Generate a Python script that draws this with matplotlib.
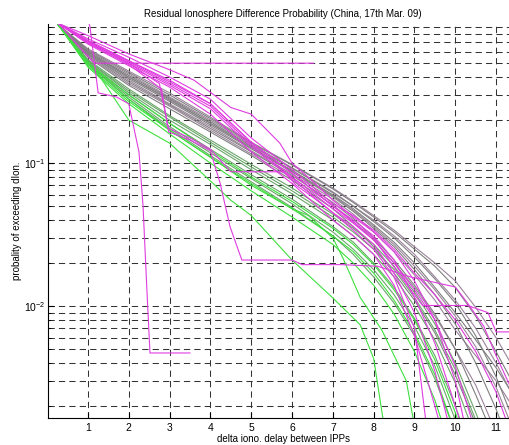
import matplotlib
matplotlib.use("Agg")
import matplotlib.pyplot as plt
from matplotlib.ticker import LogLocator, NullFormatter, FixedLocator

plt.rcParams["font.family"] = ["Liberation Sans", "DejaVu Sans"]
plt.rcParams["mathtext.default"] = "regular"

# common x grid for the band curves
x_grid = [0.27, 1, 2, 3, 4, 5, 6, 7, 7.5, 8, 8.5, 9, 9.5, 10, 10.5, 11, 11.5]

gray_p = [
    [0.93, 0.62, 0.43, 0.30, 0.205, 0.138, 0.097, 0.066, 0.053, 0.042, 0.033, 0.025, 0.019, 0.0135, 0.0085, 0.0048, 0.0026],
    [0.93, 0.60, 0.41, 0.285, 0.195, 0.132, 0.092, 0.062, 0.050, 0.039, 0.030, 0.022, 0.0155, 0.0105, 0.0062, 0.0032, 0.0014],
    [0.93, 0.58, 0.39, 0.27, 0.185, 0.126, 0.087, 0.058, 0.046, 0.035, 0.026, 0.018, 0.012, 0.0075, 0.0040, 0.0019, 0.0008],
    [0.93, 0.57, 0.37, 0.255, 0.175, 0.12, 0.082, 0.053, 0.041, 0.030, 0.021, 0.014, 0.0088, 0.0050, 0.0024, 0.0011, 0.0005],
    [0.93, 0.55, 0.35, 0.24, 0.165, 0.113, 0.076, 0.048, 0.036, 0.026, 0.017, 0.011, 0.0065, 0.0033, 0.0015, 0.0007, 0.0003],
    [0.93, 0.59, 0.40, 0.28, 0.19, 0.128, 0.089, 0.060, 0.048, 0.037, 0.028, 0.020, 0.0135, 0.0090, 0.0058, 0.0037, 0.0022],
]

mauve_p = [
    [0.93, 0.63, 0.44, 0.31, 0.21, 0.14, 0.098, 0.067, 0.054, 0.043, 0.034, 0.026, 0.020, 0.015, 0.0098, 0.0060, 0.0034],
    [0.93, 0.61, 0.42, 0.29, 0.20, 0.135, 0.093, 0.063, 0.050, 0.040, 0.031, 0.023, 0.016, 0.0110, 0.0070, 0.0040, 0.0021],
    [0.93, 0.60, 0.40, 0.275, 0.19, 0.13, 0.088, 0.059, 0.047, 0.036, 0.027, 0.019, 0.013, 0.0085, 0.0052, 0.0027, 0.0012],
    [0.93, 0.58, 0.38, 0.26, 0.18, 0.122, 0.084, 0.056, 0.044, 0.033, 0.024, 0.0165, 0.011, 0.0068, 0.0045, 0.0030, 0.0018],
    [0.93, 0.56, 0.36, 0.25, 0.17, 0.116, 0.079, 0.051, 0.039, 0.029, 0.020, 0.0135, 0.0085, 0.0050, 0.0028, 0.0013, 0.0006],
]

sage_p = [
    [0.93, 0.53, 0.33, 0.215, 0.145, 0.098, 0.067, 0.044, 0.035, 0.027, 0.019, 0.0125, 0.0075, 0.0040, 0.0018, 0.0008, 0.0003],
    [0.93, 0.52, 0.31, 0.20, 0.135, 0.090, 0.061, 0.040, 0.031, 0.023, 0.016, 0.010, 0.0058, 0.0029, 0.0012, 0.0005, 0.0002],
    [0.93, 0.51, 0.30, 0.19, 0.125, 0.083, 0.056, 0.036, 0.028, 0.020, 0.0135, 0.0082, 0.0045, 0.0020, 0.0008, 0.0003, 0.0001],
    [0.93, 0.50, 0.29, 0.18, 0.118, 0.078, 0.052, 0.033, 0.025, 0.018, 0.012, 0.0072, 0.0038, 0.0016, 0.0006, 0.0002, 0.0001],
    [0.93, 0.52, 0.32, 0.21, 0.14, 0.094, 0.064, 0.042, 0.033, 0.025, 0.018, 0.0115, 0.0068, 0.0036, 0.0016, 0.0007, 0.0003],
    [0.93, 0.49, 0.28, 0.175, 0.113, 0.074, 0.049, 0.031, 0.023, 0.016, 0.0105, 0.0062, 0.0031, 0.0013, 0.0005, 0.0002, 0.0001],
]

green_p = [
    [0.93, 0.48, 0.27, 0.17, 0.11, 0.072, 0.048, 0.031, 0.024, 0.017, 0.011, 0.0065, 0.0033, 0.0013, 0.0005, 0.0002, 0.0001],
    [0.93, 0.50, 0.30, 0.19, 0.122, 0.08, 0.054, 0.035, 0.027, 0.0195, 0.013, 0.0080, 0.0042, 0.0018, 0.0007, 0.0003, 0.0001],
    [0.93, 0.47, 0.26, 0.16, 0.10, 0.064, 0.042, 0.027, 0.020, 0.014, 0.0088, 0.0048, 0.0022, 0.0008, 0.0003, 0.0001, 0.0001],
]

# two steep bright green curves
green_low_x = [0.27, 0.8, 1.3, 2.0, 3.0, 4.0, 4.5, 5.0, 6.0, 7.0, 7.67, 8.0, 8.3]
green_low_p = [0.93, 0.6, 0.4, 0.2, 0.138, 0.075, 0.055, 0.043, 0.021, 0.0114, 0.0074, 0.0043, 0.0012]
green_mid_x = [0.27, 1, 2, 3, 4, 5, 6, 6.4, 7, 7.25, 7.67, 8.2, 8.8, 9.05]
green_mid_p = [0.93, 0.5, 0.28, 0.17, 0.11, 0.07, 0.048, 0.043, 0.03, 0.0216, 0.0115, 0.0068, 0.003, 0.0012]

magenta_p = [
    [0.95, 0.72, 0.52, 0.37, 0.26, 0.14, 0.085, 0.050, 0.040, 0.031, 0.021, 0.0115, 0.0055, 0.0020, 0.0007, 0.0002, 0.0001],
    [0.95, 0.70, 0.50, 0.35, 0.24, 0.13, 0.078, 0.045, 0.036, 0.027, 0.017, 0.0090, 0.0035, 0.0010, 0.0003, 0.0001, 0.0001],
    [0.95, 0.68, 0.48, 0.34, 0.22, 0.12, 0.072, 0.040, 0.031, 0.023, 0.014, 0.0062, 0.0020, 0.0006, 0.0002, 0.0001, 0.0001],
    [0.95, 0.74, 0.55, 0.40, 0.28, 0.15, 0.090, 0.052, 0.043, 0.034, 0.025, 0.017, 0.012, 0.0080, 0.0048, 0.0025, 0.0010],
    [0.95, 0.71, 0.51, 0.36, 0.25, 0.135, 0.080, 0.048, 0.038, 0.029, 0.020, 0.013, 0.0080, 0.0038, 0.0013, 0.0005, 0.0002],
]

# magenta curves with their own shapes
mag_top_x = [0.27, 1, 2, 3, 3.6, 4.5, 5.0, 5.7, 6.0, 6.5, 7, 7.5, 8, 8.5, 9, 9.5, 10, 10.3]
mag_top_p = [0.95, 0.78, 0.58, 0.45, 0.38, 0.245, 0.22, 0.138, 0.1, 0.075, 0.055, 0.042, 0.033, 0.024, 0.015, 0.008, 0.003, 0.0012]
mag_drop_x = [0.27, 1.0, 1.05, 1.25, 1.7, 2.0, 2.25, 2.35, 2.45, 2.52, 3.5]
mag_drop_p = [1.0, 1.0, 0.9, 0.31, 0.29, 0.26, 0.12, 0.05, 0.012, 0.0047, 0.0047]
mag_flat_x = [0.27, 1.15, 6.52]
mag_flat_p = [0.95, 0.5, 0.5]
mag_step1_x = [0.27, 1, 2, 2.75, 2.97, 3.5, 4.0, 4.5, 5.8, 6.1, 6.5, 7, 7.5, 8, 8.5, 9, 9.3]
mag_step1_p = [0.95, 0.7, 0.5, 0.36, 0.175, 0.15, 0.125, 0.087, 0.087, 0.07, 0.058, 0.045, 0.034, 0.025, 0.016, 0.007, 0.0014]
mag_step2_x = [0.27, 1, 2, 2.8, 2.98, 3.5, 4.0, 4.24, 4.48, 4.77, 6.0, 6.25, 7.2, 8.1, 8.9, 10.0, 10.3, 10.7, 11.0, 11.5]
mag_step2_p = [0.95, 0.69, 0.49, 0.33, 0.165, 0.145, 0.122, 0.072, 0.036, 0.021, 0.021, 0.0195, 0.0195, 0.019, 0.016, 0.0136, 0.0105, 0.0072, 0.0045, 0.0022]
mag_step3_x = [0.27, 1, 2, 3, 4, 5, 6, 7, 8, 8.6, 9.2, 10.3, 10.43, 10.8, 11.0, 11.6]
mag_step3_p = [0.95, 0.72, 0.52, 0.38, 0.26, 0.14, 0.085, 0.05, 0.03, 0.017, 0.0101, 0.0101, 0.0098, 0.009, 0.0066, 0.0066]

GRAY = "#808080"
MAUVE = "#9c849c"
SAGE = "#6aa66a"
GREEN = "#3ee03e"
MAGENTA = "#e03ce0"

fig = plt.figure(figsize=(5.1, 4.45), dpi=100)
ax = fig.add_axes([0.094, 0.0607, 0.922, 0.8847])

lw = 0.8
for p in mauve_p:
    ax.plot(x_grid, p, color=MAUVE, lw=lw)
for p in gray_p:
    ax.plot(x_grid, p, color=GRAY, lw=lw)
for p in sage_p:
    ax.plot(x_grid, p, color=SAGE, lw=lw)
for p in green_p:
    ax.plot(x_grid, p, color=GREEN, lw=lw)
ax.plot(green_low_x, green_low_p, color=GREEN, lw=lw)
ax.plot(green_mid_x, green_mid_p, color=GREEN, lw=lw)
for p in magenta_p:
    ax.plot(x_grid, p, color=MAGENTA, lw=lw)
for xs, ps in [(mag_top_x, mag_top_p), (mag_drop_x, mag_drop_p), (mag_flat_x, mag_flat_p),
               (mag_step1_x, mag_step1_p), (mag_step2_x, mag_step2_p), (mag_step3_x, mag_step3_p)]:
    ax.plot(xs, ps, color=MAGENTA, lw=lw)

ax.set_yscale("log")
ax.set_xlim(0.02, 11.54)
ax.set_ylim(0.00165, 0.935)

ax.xaxis.set_major_locator(FixedLocator(range(1, 12)))
ax.yaxis.set_major_locator(LogLocator(base=10))
ax.yaxis.set_minor_locator(LogLocator(base=10, subs=range(2, 10)))
ax.yaxis.set_minor_formatter(NullFormatter())

ax.grid(True, which="both", axis="both", color="#333333", lw=0.75, linestyle=(0, (6, 4)))
ax.set_axisbelow(True)

ax.tick_params(which="both", direction="in", labelsize=7.5, top=False, right=False)
ax.tick_params(which="major", length=4)
ax.tick_params(which="minor", length=2.5)
ax.tick_params(axis="y", pad=2)
for side in ["top", "right"]:
    ax.spines[side].set_visible(False)
for side in ["left", "bottom"]:
    ax.spines[side].set_linewidth(0.8)

ax.set_title("Residual Ionosphere Difference Probability (China, 17th Mar. 09)", fontsize=7, pad=5)
ax.set_xlabel("delta iono. delay between IPPs", fontsize=7, labelpad=1)
ax.set_ylabel("probality of exceeding dIon.", fontsize=7, labelpad=1)

fig.savefig("out.png", dpi=100)
